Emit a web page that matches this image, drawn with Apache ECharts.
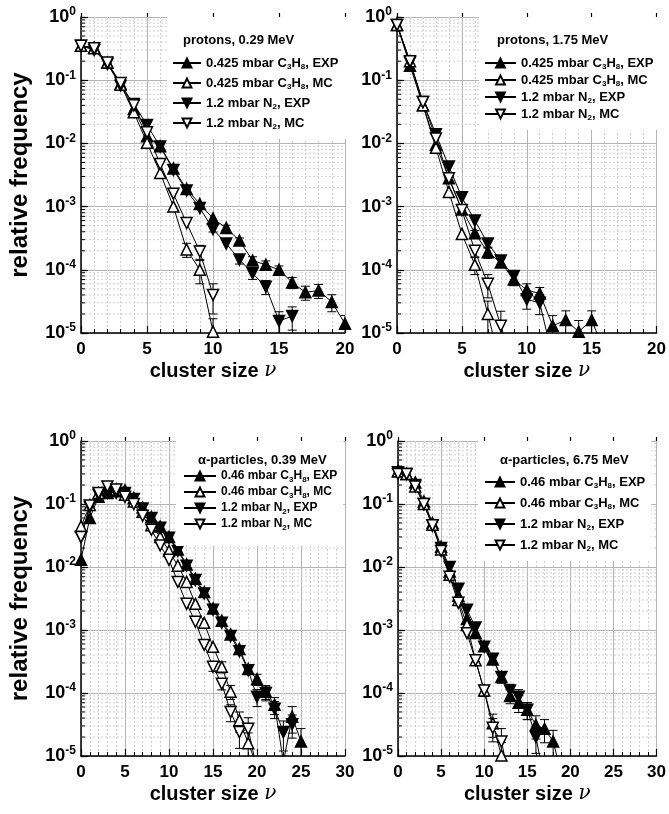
<!DOCTYPE html>
<html lang="en">
<head>
<meta charset="UTF-8">
<title>Cluster size distributions</title>
<script src="https://cdn.jsdelivr.net/npm/echarts@6/dist/echarts.min.js"></script>
<style>
  html, body { margin: 0; background: #fff; }
  #chart { width: 669px; height: 814px; }
</style>
</head>
<body>
<div id="chart"></div>
<script>
// relative frequency vs cluster size (index = cluster size nu)
// protons, 0.29 MeV
const p1C3H8Exp = [0.35, 0.33, 0.19, 0.088, 0.035, 0.013, 0.009, 0.004, 0.0019, 0.0011, 6.5e-4, 4.6e-4, 2.9e-4, 1.4e-4, 1.2e-4, 1.0e-4, 6.3e-5, 4.4e-5, 4.7e-5, 3.1e-5, 1.4e-5];
const p1C3H8Mc  = [0.35, 0.32, 0.19, 0.085, 0.031, 0.0102, 0.0034, 0.001, 2.1e-4, 1.0e-4, 1.05e-5];
const p1N2Exp   = [0.35, 0.30, 0.18, 0.082, 0.042, 0.0196, 0.0089, 0.0038, 0.0018, 0.00095, 4.4e-4, 2.6e-4, 1.45e-4, 8.8e-5, 5.4e-5, 1.55e-5, 1.85e-5];
const p1N2Mc    = [0.35, 0.32, 0.19, 0.09, 0.04, 0.015, 0.0047, 0.0016, 5.5e-4, 1.95e-4, 4e-5];
// protons, 1.75 MeV
const p2C3H8Exp = [0.75, 0.17, 0.04, 0.0095, 0.0028, 9e-4, 3.8e-4, 1.9e-4, 1.3e-4, 7e-5, 4.8e-5, 4.2e-5, 1.3e-5, 1.6e-5, 1.05e-5, 1.6e-5, 5e-6];
const p2C3H8Mc  = [0.75, 0.20, 0.04, 0.0085, 0.0017, 3.7e-4, 1.2e-4, 2e-5, 3e-6];
const p2N2Exp   = [0.75, 0.19, 0.045, 0.014, 0.0043, 0.0014, 6e-4, 2.6e-4, 1.4e-4, 8e-5, 3.4e-5, 3e-5, 4e-6];
const p2N2Mc    = [0.75, 0.20, 0.045, 0.012, 0.0028, 8.8e-4, 2e-4, 6e-5, 1.3e-5, 3e-6];
// alpha-particles, 0.39 MeV
const p3C3H8Exp = [0.013, 0.06, 0.13, 0.15, 0.16, 0.165, 0.125, 0.088, 0.062, 0.044, 0.03, 0.019, 0.011, 0.0065, 0.004, 0.0022, 0.0014, 8.5e-4, 5e-4, 2.4e-4, 1.65e-4, 1.05e-4, 6.5e-5, 8e-6, 4.2e-5, 1.7e-5];
const p3C3H8Mc  = [0.044, 0.096, 0.15, 0.18, 0.17, 0.14, 0.11, 0.075, 0.046, 0.03, 0.018, 0.0105, 0.0058, 0.0026, 0.0013, 5.4e-4, 2.6e-4, 1.05e-4, 3.7e-5, 1.6e-5, 7e-6];
const p3N2Exp   = [0.03, 0.09, 0.14, 0.15, 0.15, 0.15, 0.12, 0.085, 0.06, 0.042, 0.029, 0.018, 0.0105, 0.0062, 0.0038, 0.0021, 0.0013, 8e-4, 4.6e-4, 2.3e-4, 8.7e-5, 1.0e-4, 5.6e-5, 2.4e-5, 3.2e-5];
const p3N2Mc    = [0.03, 0.095, 0.15, 0.19, 0.17, 0.13, 0.10, 0.065, 0.039, 0.022, 0.013, 0.0058, 0.0026, 0.00135, 5.8e-4, 2.6e-4, 1.4e-4, 5e-5, 2.4e-5, 2.7e-5, 6e-6];
// alpha-particles, 6.75 MeV
const p4C3H8Exp = [0.33, 0.30, 0.22, 0.11, 0.05, 0.021, 0.0085, 0.0035, 0.0015, 9e-4, 5.5e-4, 3.4e-4, 1.8e-4, 9e-5, 7e-5, 5.4e-5, 3.1e-5, 2.7e-5, 1.7e-5, 5e-6];
const p4C3H8Mc  = [0.33, 0.30, 0.19, 0.10, 0.047, 0.019, 0.0075, 0.003, 0.0012, 3.3e-4, 1.1e-4, 3.3e-5, 1.02e-5];
const p4N2Exp   = [0.32, 0.30, 0.20, 0.10, 0.045, 0.02, 0.01, 0.0045, 0.0021, 0.0011, 5.4e-4, 3.5e-4, 1.8e-4, 1.1e-4, 8.7e-5, 5.4e-5, 2e-5, 4e-6];
const p4N2Mc    = [0.30, 0.30, 0.19, 0.10, 0.046, 0.018, 0.007, 0.0027, 8.9e-4, 3.3e-4, 1.1e-4, 2.8e-5, 1.7e-5, 4e-6];

// relative errors [cluster size, fraction], only where the bars are visible
const p1C3H8ExpErr = [[11, 0.1], [12, 0.1], [13, 0.15], [14, 0.15], [15, 0.15], [16, 0.2], [17, 0.25], [18, 0.25], [19, 0.3], [20, 0.35]];
const p1C3H8McErr  = [[8, 0.25], [9, 0.4], [10, 0.6]];
const p1N2ExpErr   = [[10, 0.1], [12, 0.15], [13, 0.2], [14, 0.25], [15, 0.4], [16, 0.4]];
const p1N2McErr    = [[9, 0.25], [10, 0.5]];
const p2C3H8ExpErr = [[6, 0.1], [7, 0.2], [8, 0.15], [9, 0.2], [10, 0.25], [11, 0.25], [12, 0.45], [13, 0.4], [14, 0.5], [15, 0.4]];
const p2C3H8McErr  = [[6, 0.3], [7, 0.6]];
const p2N2ExpErr   = [[7, 0.15], [8, 0.15], [9, 0.2], [10, 0.3], [11, 0.35]];
const p2N2McErr    = [[6, 0.2], [7, 0.4], [8, 0.7]];
const p3C3H8ExpErr = [[19, 0.15], [20, 0.2], [21, 0.25], [22, 0.3], [24, 0.45], [25, 0.6]];
const p3C3H8McErr  = [[16, 0.2], [17, 0.25], [18, 0.35], [19, 0.45]];
const p3N2ExpErr   = [[20, 0.3], [21, 0.25], [22, 0.3], [23, 0.5], [24, 0.4]];
const p3N2McErr    = [[15, 0.15], [16, 0.2], [17, 0.3], [18, 0.45], [19, 0.5]];
const p4C3H8ExpErr = [[12, 0.2], [13, 0.25], [14, 0.3], [15, 0.3], [16, 0.4], [17, 0.4], [18, 0.5]];
const p4C3H8McErr  = [[9, 0.15], [10, 0.2], [11, 0.4], [12, 0.6]];
const p4N2ExpErr   = [[11, 0.15], [12, 0.2], [13, 0.25], [14, 0.3], [15, 0.3], [16, 0.45]];
const p4N2McErr    = [[9, 0.15], [10, 0.2], [11, 0.4], [12, 0.6]];

const panelTitles = ['protons, 0.29 MeV', 'protons, 1.75 MeV', '\u03b1-particles, 0.39 MeV', '\u03b1-particles, 6.75 MeV'];
const protonNames = ['0.425 mbar C3H8, EXP', '0.425 mbar C3H8, MC', '1.2 mbar N2, EXP', '1.2 mbar N2, MC'];
const alphaNames  = ['0.46 mbar C3H8, EXP', '0.46 mbar C3H8, MC', '1.2 mbar N2, EXP', '1.2 mbar N2, MC'];
const xMaxes = [20, 20, 30, 30];
const xTickStep = 5;
const yDecades = [-5, -4, -3, -2, -1];
const yMinorSteps = [2, 3, 4, 5, 6, 7, 8, 9];

const font = 'Liberation Sans, Arial, sans-serif';

const panels = [
  { names: protonNames, values: [p1C3H8Exp, p1C3H8Mc, p1N2Exp, p1N2Mc],
    errors: [p1C3H8ExpErr, p1C3H8McErr, p1N2ExpErr, p1N2McErr],
    grid: { left: 81, top: 17, width: 264, height: 316 },
    legend: { left: 167, top: 17, itemWidth: 28, gap: 4, pad: [38, 10, 8, 5], fs: 13 },
    title: { left: 178, top: 29 } },
  { names: protonNames, values: [p2C3H8Exp, p2C3H8Mc, p2N2Exp, p2N2Mc],
    errors: [p2C3H8ExpErr, p2C3H8McErr, p2N2ExpErr, p2N2McErr],
    grid: { left: 397, top: 17, width: 264, height: 316 },
    legend: { left: 479, top: 17, itemWidth: 31, gap: 1, pad: [38, 8, 8, 5], fs: 13 },
    title: { left: 492, top: 29 } },
  { names: alphaNames, values: [p3C3H8Exp, p3C3H8Mc, p3N2Exp, p3N2Mc],
    errors: [p3C3H8ExpErr, p3C3H8McErr, p3N2ExpErr, p3N2McErr],
    grid: { left: 81, top: 441, width: 264, height: 315 },
    legend: { left: 176, top: 441, itemWidth: 32, gap: 0, pad: [27, 6, 14, 7], fs: 12 },
    title: { left: 193, top: 449 } },
  { names: alphaNames, values: [p4C3H8Exp, p4C3H8Mc, p4N2Exp, p4N2Mc],
    errors: [p4C3H8ExpErr, p4C3H8McErr, p4N2ExpErr, p4N2McErr],
    grid: { left: 398, top: 441, width: 263, height: 315 },
    legend: { left: 478, top: 441, itemWidth: 30, gap: 5, pad: [33, 6, 8, 6], fs: 13 },
    title: { left: 495, top: 449 } }
];

// marker styles: filled up, open up, filled down, open down
const markers = [
  { rotate: 0, fill: '#000' },
  { rotate: 0, fill: '#fff' },
  { rotate: 180, fill: '#000' },
  { rotate: 180, fill: '#fff' }
];

function subscripts(name) {
  return name.replace('C3H8', 'C{s|3}H{s|8}').replace('N2', 'N{s|2}');
}

function minorLogGrid(idx, xmax) {
  return {
    type: 'custom', xAxisIndex: idx, yAxisIndex: idx, silent: true, z: 1,
    data: [[0, 1e-3]],
    renderItem: function (params, api) {
      const children = [];
      yDecades.forEach(function (d) {
        yMinorSteps.forEach(function (m) {
          const v = m * Math.pow(10, d);
          const a = api.coord([0, v]);
          const b = api.coord([xmax, v]);
          children.push({ type: 'line', shape: { x1: a[0], y1: a[1], x2: b[0], y2: b[1] },
            style: { stroke: '#cfcfcf', lineWidth: 1, lineDash: [2, 2] } });
          children.push({ type: 'line', shape: { x1: a[0], y1: a[1], x2: a[0] + 4, y2: a[1] },
            style: { stroke: '#000', lineWidth: 1 } });
        });
      });
      return { type: 'group', children: children };
    }
  };
}

function errorBars(idx, vals, errs) {
  return {
    type: 'custom', xAxisIndex: idx, yAxisIndex: idx, silent: true, z: 2, clip: true,
    data: errs.map(function (e) { return [e[0], vals[e[0]] * (1 - e[1]), vals[e[0]] * (1 + e[1])]; }),
    encode: { x: 0, y: [1, 2] },
    renderItem: function (params, api) {
      const lo = api.coord([api.value(0), api.value(1)]);
      const hi = api.coord([api.value(0), api.value(2)]);
      const w = 4.5;
      const st = { stroke: '#000', lineWidth: 1 };
      return { type: 'group', children: [
        { type: 'line', shape: { x1: lo[0], y1: lo[1], x2: hi[0], y2: hi[1] }, style: st },
        { type: 'line', shape: { x1: lo[0] - w, y1: lo[1], x2: lo[0] + w, y2: lo[1] }, style: st },
        { type: 'line', shape: { x1: hi[0] - w, y1: hi[1], x2: hi[0] + w, y2: hi[1] }, style: st }
      ] };
    }
  };
}

const option = {
  backgroundColor: '#fff',
  animation: false,
  title: [], legend: [], grid: [], xAxis: [], yAxis: [], series: []
};

panels.forEach(function (p, i) {
  option.grid.push(p.grid);
  option.title.push({
    text: panelTitles[i], left: p.title.left, top: p.title.top, z: 10,
    textStyle: { fontFamily: font, fontSize: 13, fontWeight: 'bold', color: '#000' }
  });
  option.legend.push({
    orient: 'vertical', left: p.legend.left, top: p.legend.top,
    padding: p.legend.pad, backgroundColor: '#fff', z: 5,
    itemWidth: p.legend.itemWidth, itemHeight: 11, itemGap: p.legend.gap,
    symbolRotate: 'inherit',
    data: p.names,
    formatter: subscripts,
    textStyle: {
      fontFamily: font, fontSize: p.legend.fs, fontWeight: 'bold', color: '#000', lineHeight: 16,
      rich: { s: { fontFamily: font, fontSize: 8, fontWeight: 'bold', color: '#000', verticalAlign: 'bottom', lineHeight: 9 } }
    }
  });
  option.xAxis.push({
    type: 'value', gridIndex: i, min: 0, max: xMaxes[i], interval: xTickStep,
    name: 'cluster size {nu|\u03bd}', nameLocation: 'middle', nameGap: 28,
    nameTextStyle: {
      fontFamily: font, fontSize: 20, fontWeight: 'bold', color: '#000',
      rich: { nu: { fontFamily: 'DejaVu Serif', fontStyle: 'italic', fontWeight: 'normal', fontSize: 20, color: '#000' } }
    },
    axisLine: { lineStyle: { color: '#000', width: 1.5 } },
    axisTick: { inside: true, length: 7, lineStyle: { color: '#000', width: 1.2 } },
    minorTick: { show: true, splitNumber: 5, length: 4, lineStyle: { color: '#000', width: 1 } },
    axisLabel: { fontFamily: font, fontSize: 17, fontWeight: 'bold', color: '#000', margin: 8 },
    splitLine: { show: true, lineStyle: { color: '#b4b4b4', width: 1 } },
    minorSplitLine: { show: true, lineStyle: { color: '#cfcfcf', width: 1, type: [2, 2] } }
  });
  option.yAxis.push({
    type: 'log', logBase: 10, gridIndex: i, min: 1e-5, max: 1,
    name: i % 2 === 0 ? 'relative frequency' : '',
    nameLocation: 'middle', nameGap: 49,
    nameTextStyle: { fontFamily: font, fontSize: 24, fontWeight: 'bold', color: '#000' },
    axisLine: { show: true, lineStyle: { color: '#000', width: 1.5 } },
    axisTick: { inside: true, length: 7, lineStyle: { color: '#000', width: 1.2 } },
    axisLabel: {
      margin: 5,
      formatter: function (v) { return '{b|10}{s|' + Math.round(Math.log10(v)) + '}'; },
      rich: {
        b: { fontFamily: font, fontSize: 18, fontWeight: 'bold', color: '#000', lineHeight: 22 },
        s: { fontFamily: font, fontSize: 12, fontWeight: 'bold', color: '#000', verticalAlign: 'top', lineHeight: 12 }
      }
    },
    splitLine: { show: true, lineStyle: { color: '#b4b4b4', width: 1 } }
  });
  option.series.push(minorLogGrid(i, xMaxes[i]));
  p.values.forEach(function (vals, k) {
    option.series.push(errorBars(i, vals, p.errors[k]));
    option.series.push({
      type: 'line', name: p.names[k], xAxisIndex: i, yAxisIndex: i, z: 3,
      data: vals.map(function (v, x) { return [x, v]; }),
      symbol: 'triangle', symbolSize: 11, symbolRotate: markers[k].rotate,
      showAllSymbol: true, clip: true,
      lineStyle: { color: '#000', width: 1 },
      itemStyle: { color: markers[k].fill, borderColor: '#000', borderWidth: 1.5 }
    });
  });
});

// outer halves of the major ticks, which cross the axis lines
panels.forEach(function (p, i) {
  option.xAxis.push({
    type: 'value', gridIndex: i, min: 0, max: xMaxes[i], interval: xTickStep,
    axisLine: { show: false }, axisLabel: { show: false }, splitLine: { show: false },
    axisTick: { inside: false, length: 4, lineStyle: { color: '#000', width: 1.2 } }
  });
  option.yAxis.push({
    type: 'log', logBase: 10, gridIndex: i, min: 1e-5, max: 1,
    axisLine: { show: false }, axisLabel: { show: false }, splitLine: { show: false },
    axisTick: { show: true, inside: false, length: 4, lineStyle: { color: '#000', width: 1.2 } }
  });
});

const chart = echarts.init(document.getElementById('chart'));
chart.setOption(option);
window.addEventListener('resize', function () { chart.resize(); });
</script>
</body>
</html>
